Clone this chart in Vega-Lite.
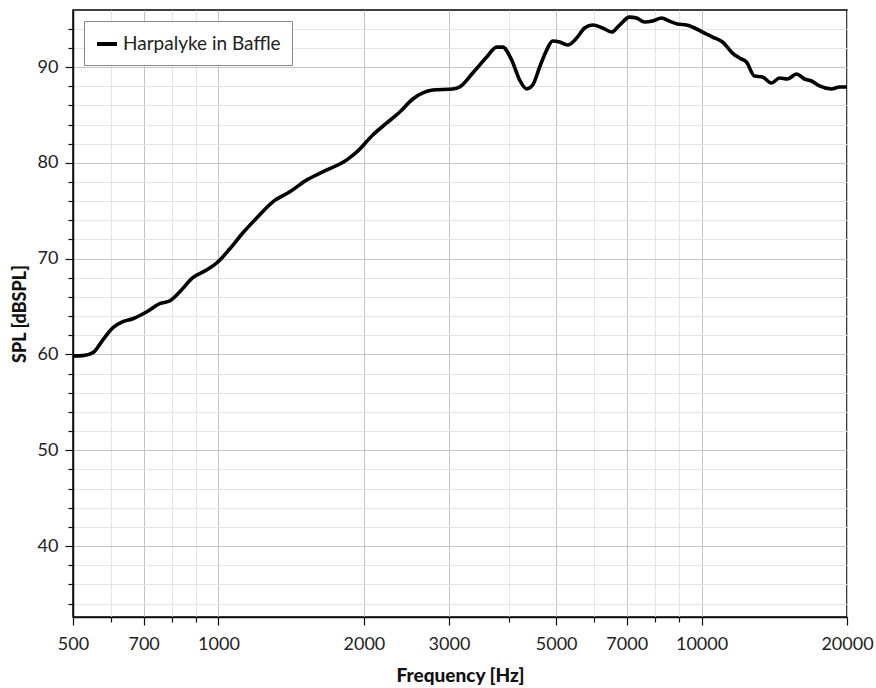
{
  "$schema": "https://vega.github.io/schema/vega-lite/v6.json",
  "autosize": {"type": "none"},
  "padding": {"left": 73, "top": 10, "right": 29, "bottom": 70},
  "width": 774,
  "height": 607,
  "background": "white",
  "config": {
    "font": "Lato",
    "view": {"stroke": "black", "strokeWidth": 1.5},
    "axis": {"labelFont": "Lato", "titleFont": "Lato", "labelColor": "#222", "titleColor": "#111"}
  },
  "data": {
    "values": [
      {"f": 500, "spl": 59.85, "s": "Harpalyke in Baffle"},
      {"f": 524, "spl": 59.88, "s": "Harpalyke in Baffle"},
      {"f": 550, "spl": 60.19, "s": "Harpalyke in Baffle"},
      {"f": 577, "spl": 61.55, "s": "Harpalyke in Baffle"},
      {"f": 605, "spl": 62.8, "s": "Harpalyke in Baffle"},
      {"f": 634, "spl": 63.42, "s": "Harpalyke in Baffle"},
      {"f": 665, "spl": 63.73, "s": "Harpalyke in Baffle"},
      {"f": 711, "spl": 64.46, "s": "Harpalyke in Baffle"},
      {"f": 756, "spl": 65.3, "s": "Harpalyke in Baffle"},
      {"f": 794, "spl": 65.61, "s": "Harpalyke in Baffle"},
      {"f": 832, "spl": 66.55, "s": "Harpalyke in Baffle"},
      {"f": 885, "spl": 68.01, "s": "Harpalyke in Baffle"},
      {"f": 947, "spl": 68.84, "s": "Harpalyke in Baffle"},
      {"f": 993, "spl": 69.57, "s": "Harpalyke in Baffle"},
      {"f": 1056, "spl": 71.03, "s": "Harpalyke in Baffle"},
      {"f": 1124, "spl": 72.7, "s": "Harpalyke in Baffle"},
      {"f": 1201, "spl": 74.26, "s": "Harpalyke in Baffle"},
      {"f": 1296, "spl": 75.93, "s": "Harpalyke in Baffle"},
      {"f": 1405, "spl": 76.97, "s": "Harpalyke in Baffle"},
      {"f": 1524, "spl": 78.22, "s": "Harpalyke in Baffle"},
      {"f": 1644, "spl": 79.06, "s": "Harpalyke in Baffle"},
      {"f": 1844, "spl": 80.31, "s": "Harpalyke in Baffle"},
      {"f": 1934, "spl": 81.14, "s": "Harpalyke in Baffle"},
      {"f": 2087, "spl": 82.91, "s": "Harpalyke in Baffle"},
      {"f": 2231, "spl": 84.16, "s": "Harpalyke in Baffle"},
      {"f": 2373, "spl": 85.31, "s": "Harpalyke in Baffle"},
      {"f": 2525, "spl": 86.66, "s": "Harpalyke in Baffle"},
      {"f": 2777, "spl": 87.6, "s": "Harpalyke in Baffle"},
      {"f": 3054, "spl": 87.71, "s": "Harpalyke in Baffle"},
      {"f": 3157, "spl": 87.92, "s": "Harpalyke in Baffle"},
      {"f": 3360, "spl": 89.37, "s": "Harpalyke in Baffle"},
      {"f": 3592, "spl": 91.04, "s": "Harpalyke in Baffle"},
      {"f": 3767, "spl": 92.08, "s": "Harpalyke in Baffle"},
      {"f": 3875, "spl": 92.08, "s": "Harpalyke in Baffle"},
      {"f": 4045, "spl": 90.73, "s": "Harpalyke in Baffle"},
      {"f": 4202, "spl": 88.64, "s": "Harpalyke in Baffle"},
      {"f": 4345, "spl": 87.71, "s": "Harpalyke in Baffle"},
      {"f": 4471, "spl": 88.12, "s": "Harpalyke in Baffle"},
      {"f": 4623, "spl": 90.0, "s": "Harpalyke in Baffle"},
      {"f": 4779, "spl": 91.77, "s": "Harpalyke in Baffle"},
      {"f": 4917, "spl": 92.71, "s": "Harpalyke in Baffle"},
      {"f": 5083, "spl": 92.61, "s": "Harpalyke in Baffle"},
      {"f": 5280, "spl": 92.29, "s": "Harpalyke in Baffle"},
      {"f": 5513, "spl": 93.02, "s": "Harpalyke in Baffle"},
      {"f": 5727, "spl": 94.07, "s": "Harpalyke in Baffle"},
      {"f": 5950, "spl": 94.38, "s": "Harpalyke in Baffle"},
      {"f": 6240, "spl": 94.07, "s": "Harpalyke in Baffle"},
      {"f": 6514, "spl": 93.65, "s": "Harpalyke in Baffle"},
      {"f": 6766, "spl": 94.38, "s": "Harpalyke in Baffle"},
      {"f": 7095, "spl": 95.21, "s": "Harpalyke in Baffle"},
      {"f": 7336, "spl": 95.11, "s": "Harpalyke in Baffle"},
      {"f": 7621, "spl": 94.69, "s": "Harpalyke in Baffle"},
      {"f": 7919, "spl": 94.79, "s": "Harpalyke in Baffle"},
      {"f": 8265, "spl": 95.11, "s": "Harpalyke in Baffle"},
      {"f": 8584, "spl": 94.79, "s": "Harpalyke in Baffle"},
      {"f": 8919, "spl": 94.48, "s": "Harpalyke in Baffle"},
      {"f": 9310, "spl": 94.38, "s": "Harpalyke in Baffle"},
      {"f": 9670, "spl": 94.07, "s": "Harpalyke in Baffle"},
      {"f": 10238, "spl": 93.44, "s": "Harpalyke in Baffle"},
      {"f": 10537, "spl": 93.13, "s": "Harpalyke in Baffle"},
      {"f": 11051, "spl": 92.61, "s": "Harpalyke in Baffle"},
      {"f": 11587, "spl": 91.46, "s": "Harpalyke in Baffle"},
      {"f": 11979, "spl": 90.94, "s": "Harpalyke in Baffle"},
      {"f": 12385, "spl": 90.52, "s": "Harpalyke in Baffle"},
      {"f": 12866, "spl": 89.06, "s": "Harpalyke in Baffle"},
      {"f": 13365, "spl": 88.96, "s": "Harpalyke in Baffle"},
      {"f": 13955, "spl": 88.33, "s": "Harpalyke in Baffle"},
      {"f": 14498, "spl": 88.85, "s": "Harpalyke in Baffle"},
      {"f": 15060, "spl": 88.75, "s": "Harpalyke in Baffle"},
      {"f": 15720, "spl": 89.27, "s": "Harpalyke in Baffle"},
      {"f": 16330, "spl": 88.75, "s": "Harpalyke in Baffle"},
      {"f": 16883, "spl": 88.54, "s": "Harpalyke in Baffle"},
      {"f": 17539, "spl": 88.02, "s": "Harpalyke in Baffle"},
      {"f": 18569, "spl": 87.71, "s": "Harpalyke in Baffle"},
      {"f": 19290, "spl": 87.92, "s": "Harpalyke in Baffle"},
      {"f": 20000, "spl": 87.92, "s": "Harpalyke in Baffle"}
    ]
  },
  "resolve": {"axis": {"x": "independent", "y": "independent"}},
  "layer": [
    {
      "mark": {"type": "line", "opacity": 0},
      "encoding": {
        "x": {
          "field": "f", "type": "quantitative",
          "scale": {"type": "log", "domain": [500, 20000], "nice": false},
          "axis": {
            "orient": "bottom", "values": [600, 800, 900, 4000, 6000, 8000, 9000],
            "labels": false, "title": null, "domain": false,
            "grid": true, "gridColor": "#e4e4e4", "gridWidth": 1,
            "ticks": true, "tickSize": 5, "tickColor": "#111", "tickWidth": 1.2
          }
        },
        "y": {
          "field": "spl", "type": "quantitative",
          "scale": {"domain": [32.6, 95.95], "nice": false, "zero": false},
          "axis": {
            "orient": "left",
            "values": [34, 36, 38, 42, 44, 46, 48, 52, 54, 56, 58, 62, 64, 66, 68, 72, 74, 76, 78, 82, 84, 86, 88, 92, 94],
            "labels": false, "title": null, "domain": false,
            "grid": true, "gridColor": "#e4e4e4", "gridWidth": 1,
            "ticks": true, "tickSize": 5, "tickColor": "#111", "tickWidth": 1.2
          }
        }
      }
    },
    {
      "mark": {"type": "line", "strokeWidth": 3.6, "interpolate": "monotone"},
      "encoding": {
        "x": {
          "field": "f", "type": "quantitative",
          "scale": {"type": "log", "domain": [500, 20000], "nice": false},
          "axis": {
            "orient": "bottom",
            "values": [500, 700, 1000, 2000, 3000, 5000, 7000, 10000, 20000],
            "format": "d",
            "title": "Frequency [Hz]", "titleFontSize": 19, "titleFontWeight": 900, "titlePadding": 13,
            "labelFontSize": 18, "labelPadding": 10, "labelFlush": false,
            "grid": true, "gridColor": "#c4c4c4", "gridWidth": 1,
            "domain": true, "domainColor": "#111", "domainWidth": 1.5,
            "tickSize": 8, "tickColor": "#111", "tickWidth": 1.2
          }
        },
        "y": {
          "field": "spl", "type": "quantitative",
          "scale": {"domain": [32.6, 95.95], "nice": false, "zero": false},
          "axis": {
            "orient": "left",
            "values": [40, 50, 60, 70, 80, 90],
            "title": "SPL [dBSPL]", "titleFontSize": 18, "titleFontWeight": 900, "titlePadding": 8,
            "labelFontSize": 18, "labelPadding": 7,
            "grid": true, "gridColor": "#c4c4c4", "gridWidth": 1,
            "domain": true, "domainColor": "#111", "domainWidth": 1.5,
            "tickSize": 8, "tickColor": "#111", "tickWidth": 1.2
          }
        },
        "color": {
          "field": "s", "type": "nominal",
          "scale": {"range": ["#000000"]},
          "legend": {
            "orient": "none", "legendX": 11, "legendY": 11, "title": null,
            "fillColor": "white", "strokeColor": "#888", "padding": 11,
            "symbolType": "stroke", "symbolSize": 400, "symbolStrokeWidth": 4,
            "labelFontSize": 19, "labelFont": "Lato", "labelColor": "#222", "labelOffset": 4
          }
        }
      }
    }
  ]
}
